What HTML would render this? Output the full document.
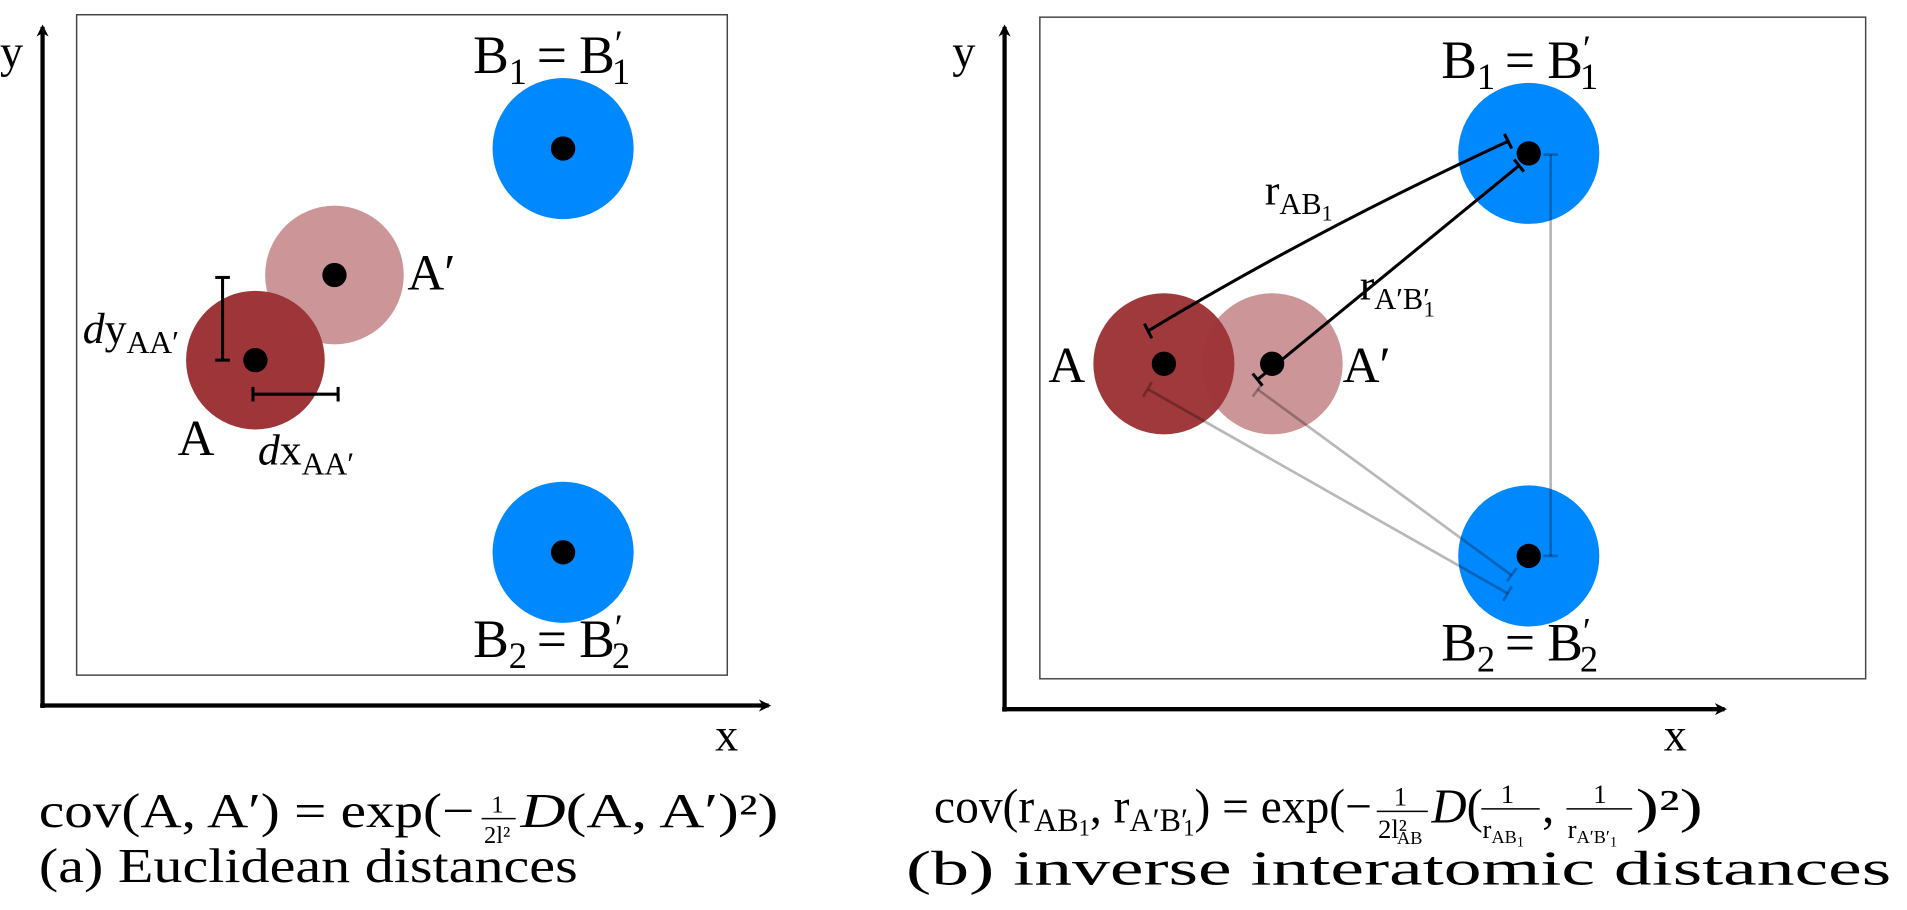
<!DOCTYPE html>
<html><head><meta charset="utf-8"><style>
html,body{margin:0;padding:0;background:#fff;}
svg{display:block;}
text{font-family:"Liberation Serif",serif;fill:#000;}
</style></head><body>
<svg width="1907" height="910" viewBox="0 0 1568 748" xmlns="http://www.w3.org/2000/svg">
<defs>
<marker id="ar" markerWidth="10" markerHeight="10" refX="8" refY="5" orient="auto" markerUnits="userSpaceOnUse" viewBox="0 0 10 10">
<path d="M0,0 L10,5 L0,10 L3,5 z" fill="#000"/></marker>
</defs>
<!-- LEFT PANEL -->
<rect x="63" y="12" width="535" height="543" fill="none" stroke="#444" stroke-width="1.2"/>
<line x1="35" y1="582" x2="35" y2="22" stroke="#000" stroke-width="3.5" marker-end="url(#ar)"/>
<line x1="33" y1="580" x2="632" y2="580" stroke="#000" stroke-width="3.5" marker-end="url(#ar)"/>
<text x="0" y="55" font-size="38">y</text>
<text x="588" y="617" font-size="38">x</text>
<circle cx="463" cy="122" r="58" fill="#0088ff"/><circle cx="463" cy="122" r="10"/>
<circle cx="463" cy="454" r="58" fill="#0088ff"/><circle cx="463" cy="454" r="10"/>
<circle cx="275" cy="226" r="57" fill="#cc9698"/><circle cx="275" cy="226" r="10"/>
<circle cx="210" cy="296" r="57" fill="#9e3538"/><circle cx="210" cy="296" r="10"/>
<g stroke="#000" stroke-width="2.5">
<line x1="183" y1="228" x2="183" y2="296"/><line x1="177" y1="228" x2="189" y2="228"/><line x1="177" y1="296" x2="189" y2="296"/>
<line x1="208" y1="324" x2="278" y2="324"/><line x1="208" y1="318" x2="208" y2="330"/><line x1="278" y1="318" x2="278" y2="330"/>
</g>
<text x="389" y="60" font-size="44">B<tspan font-size="30" dy="9">1</tspan><tspan dy="-9" dx="8">=</tspan><tspan dx="10">B</tspan><tspan font-size="30" dy="-14">′</tspan><tspan font-size="30" dx="-9" dy="23">1</tspan></text>
<text x="389" y="540" font-size="44">B<tspan font-size="30" dy="9">2</tspan><tspan dy="-9" dx="8">=</tspan><tspan dx="10">B</tspan><tspan font-size="30" dy="-14">′</tspan><tspan font-size="30" dx="-9" dy="23">2</tspan></text>
<text x="335" y="238" font-size="42">A′</text>
<text x="68" y="282" font-size="36"><tspan font-style="italic">d</tspan>y<tspan font-size="26" dy="8">AA′</tspan></text>
<text x="146" y="374" font-size="42">A</text>
<text x="212" y="382" font-size="36"><tspan font-style="italic">d</tspan>x<tspan font-size="26" dy="8">AA′</tspan></text>
<text x="32" y="680" font-size="40" textLength="358" lengthAdjust="spacingAndGlyphs">cov(A, A′) = exp(−</text>
<text x="404" y="668" font-size="20">1</text><line x1="396" y1="673" x2="424" y2="673" stroke="#000" stroke-width="1.2"/>
<text x="398" y="693" font-size="20">2l²</text>
<text x="428" y="680" font-size="40" textLength="212" lengthAdjust="spacingAndGlyphs"><tspan font-style="italic">D</tspan>(A, A′)²)</text>
<text x="32" y="725" font-size="40" textLength="443" lengthAdjust="spacingAndGlyphs">(a) Euclidean distances</text>

<!-- RIGHT PANEL -->
<rect x="855" y="14" width="679" height="544" fill="none" stroke="#444" stroke-width="1.2"/>
<line x1="826" y1="585" x2="826" y2="22" stroke="#000" stroke-width="3.5" marker-end="url(#ar)"/>
<line x1="824" y1="583" x2="1418" y2="583" stroke="#000" stroke-width="3.5" marker-end="url(#ar)"/>
<text x="783" y="55" font-size="38">y</text>
<text x="1368" y="617" font-size="38">x</text>
<circle cx="1257" cy="126" r="58" fill="#0088ff"/><circle cx="1257" cy="126" r="10"/>
<circle cx="1257" cy="457" r="58" fill="#0088ff"/><circle cx="1257" cy="457" r="10"/>
<circle cx="1046" cy="299" r="58" fill="#cc9698"/><circle cx="1046" cy="299" r="10"/>
<circle cx="957" cy="299" r="58" fill="#9e3538" fill-opacity="0.98"/><circle cx="957" cy="299" r="10"/>
<g stroke="#000" stroke-opacity="0.28" stroke-width="2.2">
<line x1="944" y1="320" x2="1240" y2="488"/><line x1="940" y1="326" x2="947" y2="314"/><line x1="1236" y1="494" x2="1243" y2="482"/>
<line x1="1034" y1="320" x2="1243" y2="473"/><line x1="1030" y1="326" x2="1038" y2="315"/><line x1="1239" y1="478" x2="1247" y2="467"/>
<line x1="1275" y1="127" x2="1275" y2="457"/><line x1="1269" y1="127" x2="1281" y2="127"/><line x1="1269" y1="457" x2="1281" y2="457"/>
</g>
<g stroke="#000" stroke-width="2.5" fill="none">
<path d="M944,272 Q1080,190 1240,116"/><line x1="941" y1="266" x2="947" y2="278"/><line x1="1237" y1="110" x2="1243" y2="122"/>
<line x1="1034" y1="312" x2="1249" y2="136"/><line x1="1030" y1="307" x2="1038" y2="317"/><line x1="1245" y1="131" x2="1253" y2="141"/>
</g>
<text x="1040" y="168" font-size="36">r<tspan font-size="25" dy="8">AB</tspan><tspan font-size="18" dy="5">1</tspan></text>
<text x="1118" y="246" font-size="36">r<tspan font-size="25" dy="8">A′B′</tspan><tspan font-size="18" dx="-5" dy="6">1</tspan></text>
<text x="862" y="314" font-size="42">A</text>
<text x="1104" y="314" font-size="42">A′</text>
<text x="1185" y="64" font-size="44">B<tspan font-size="30" dy="9">1</tspan><tspan dy="-9" dx="8">=</tspan><tspan dx="10">B</tspan><tspan font-size="30" dy="-14">′</tspan><tspan font-size="30" dx="-9" dy="23">1</tspan></text>
<text x="1185" y="543" font-size="44">B<tspan font-size="30" dy="9">2</tspan><tspan dy="-9" dx="8">=</tspan><tspan dx="10">B</tspan><tspan font-size="30" dy="-14">′</tspan><tspan font-size="30" dx="-9" dy="23">2</tspan></text>
<text x="768" y="676" font-size="40" textLength="360" lengthAdjust="spacingAndGlyphs">cov(r<tspan font-size="27" dy="7">AB</tspan><tspan font-size="19" dy="4">1</tspan><tspan dy="-11">, r</tspan><tspan font-size="27" dy="7">A′B′</tspan><tspan font-size="19" dx="-4" dy="4">1</tspan><tspan dy="-11">) = exp(−</tspan></text>
<text x="1146" y="662" font-size="22">1</text><line x1="1132" y1="667" x2="1174" y2="667" stroke="#000" stroke-width="1.2"/>
<text x="1133" y="689" font-size="22">2l²<tspan font-size="15" dx="-8" dy="5">AB</tspan></text>
<text x="1177" y="676" font-size="40"><tspan font-style="italic">D</tspan>(</text>
<text x="1234" y="660" font-size="22">1</text><line x1="1218" y1="665" x2="1266" y2="665" stroke="#000" stroke-width="1.2"/>
<text x="1219" y="689" font-size="22">r<tspan font-size="15" dy="4">AB</tspan><tspan font-size="12" dy="3">1</tspan></text>
<text x="1268" y="676" font-size="40">,</text>
<text x="1310" y="660" font-size="22">1</text><line x1="1288" y1="665" x2="1342" y2="665" stroke="#000" stroke-width="1.2"/>
<text x="1289" y="689" font-size="22">r<tspan font-size="15" dy="4">A′B′</tspan><tspan font-size="12" dy="3">1</tspan></text>
<text x="1345" y="676" font-size="40" textLength="55" lengthAdjust="spacingAndGlyphs">)²)</text>
<text x="745" y="727" font-size="40" textLength="810" lengthAdjust="spacingAndGlyphs">(b) inverse interatomic distances</text>
</svg>
</body></html>
